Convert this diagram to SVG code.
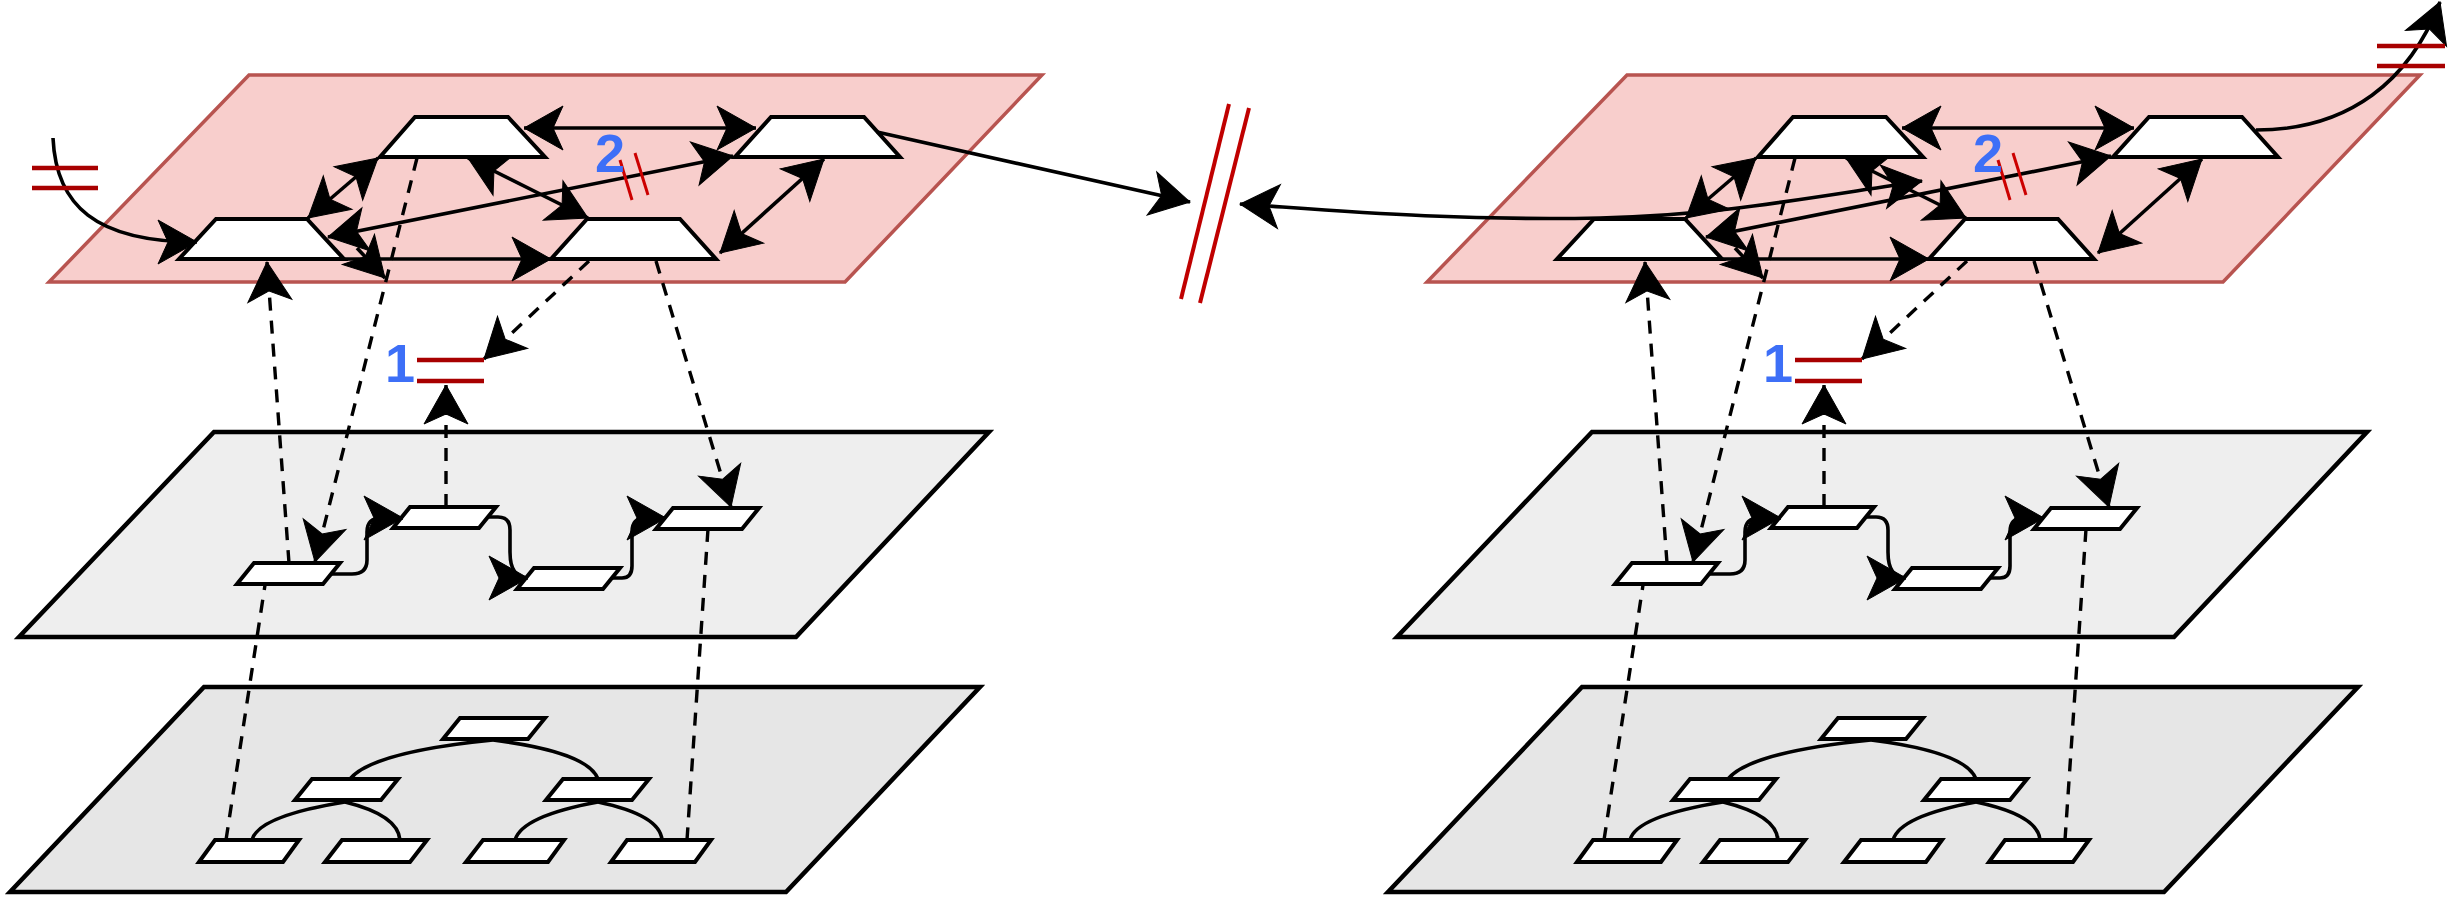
<svg xmlns="http://www.w3.org/2000/svg" width="2453" height="900" viewBox="0 0 2453 900">
<style>
.pink{fill:#f8cecc;stroke:#b85450;stroke-width:3.5}
.mid{fill:#eeeeee;stroke:#000;stroke-width:4.5}
.low{fill:#e6e6e6;stroke:#000;stroke-width:4.5}
.node{fill:#fff;stroke:#000;stroke-width:4}
.edge{fill:none;stroke:#000;stroke-width:3.6}
.dash{fill:none;stroke:#000;stroke-width:3.4;stroke-dasharray:13 10}
.red{fill:none;stroke:#a80000;stroke-width:4.5}
.tick{fill:none;stroke:#cc0000;stroke-width:3}
.slash{fill:none;stroke:#c00000;stroke-width:4}
.num{font-family:"Liberation Sans",Arial,sans-serif;font-weight:bold;font-size:54px;fill:#3d6ff7;text-anchor:middle}
</style>
<defs>
<marker id="arr" viewBox="-42 -24 44 48" markerWidth="44" markerHeight="48" refX="0" refY="0" orient="auto-start-reverse" markerUnits="userSpaceOnUse">
<path d="M0,0 L-39,-22 L-29,0 L-39,22 Z" fill="#000" stroke="#000" stroke-width="1"/>
</marker>
</defs>

<g id="planes">
<g id="planes-left">
<polygon id="L-top-plane" class="pink" points="249,75 1042,75 845,282 49,282"/>
<polygon id="L-mid-plane" class="mid" points="214,432 989,432 796,637 19,637"/>
<polygon id="L-low-plane" class="low" points="204,687 980,687 786,892 10,892"/>
</g>
<g id="planes-right" transform="translate(1378,0)">
<polygon id="R-top-plane" class="pink" points="249,75 1042,75 845,282 49,282"/>
<polygon id="R-mid-plane" class="mid" points="214,432 989,432 796,637 19,637"/>
<polygon id="R-low-plane" class="low" points="204,687 980,687 786,892 10,892"/>
</g>
</g>

<g id="nodes-left">
<g id="L-A"><polygon class="node" points="415,117 508,117 545,157 380,157"/></g>
<g id="L-B"><polygon class="node" points="771,117 864,117 900,157 735,157"/></g>
<g id="L-C"><polygon class="node" points="216,219 307,219 344,259 179,259"/></g>
<g id="L-D"><polygon class="node" points="587,219 680,219 716,259 551,259"/></g>
<g id="L-M1"><polygon class="node" points="254,563 340,563 323,584 237,584"/></g>
<g id="L-M2"><polygon class="node" points="410,507 496,507 479,528 393,528"/></g>
<g id="L-M3"><polygon class="node" points="534,568 620,568 603,589 517,589"/></g>
<g id="L-M4"><polygon class="node" points="673,508 759,508 742,529 656,529"/></g>
<g id="L-T0"><polygon class="node" points="460,718 545,718 528,739 443,739"/></g>
<g id="L-T1"><polygon class="node" points="312,779 398,779 381,800 295,800"/></g>
<g id="L-T2"><polygon class="node" points="563,779 649,779 632,800 546,800"/></g>
<g id="L-T3"><polygon class="node" points="215,840 299,840 283,862 199,862"/></g>
<g id="L-T4"><polygon class="node" points="342,840 427,840 410,862 325,862"/></g>
<g id="L-T5"><polygon class="node" points="483,840 564,840 548,862 466,862"/></g>
<g id="L-T6"><polygon class="node" points="627,840 711,840 695,862 611,862"/></g>
</g>

<g id="nodes-right" transform="translate(1378,0)">
<g id="R-A"><polygon class="node" points="415,117 508,117 545,157 380,157"/></g>
<g id="R-B"><polygon class="node" points="771,117 864,117 900,157 735,157"/></g>
<g id="R-C"><polygon class="node" points="216,219 307,219 344,259 179,259"/></g>
<g id="R-D"><polygon class="node" points="587,219 680,219 716,259 551,259"/></g>
<g id="R-M1"><polygon class="node" points="254,563 340,563 323,584 237,584"/></g>
<g id="R-M2"><polygon class="node" points="410,507 496,507 479,528 393,528"/></g>
<g id="R-M3"><polygon class="node" points="534,568 620,568 603,589 517,589"/></g>
<g id="R-M4"><polygon class="node" points="673,508 759,508 742,529 656,529"/></g>
<g id="R-T0"><polygon class="node" points="460,718 545,718 528,739 443,739"/></g>
<g id="R-T1"><polygon class="node" points="312,779 398,779 381,800 295,800"/></g>
<g id="R-T2"><polygon class="node" points="563,779 649,779 632,800 546,800"/></g>
<g id="R-T3"><polygon class="node" points="215,840 299,840 283,862 199,862"/></g>
<g id="R-T4"><polygon class="node" points="342,840 427,840 410,862 325,862"/></g>
<g id="R-T5"><polygon class="node" points="483,840 564,840 548,862 466,862"/></g>
<g id="R-T6"><polygon class="node" points="627,840 711,840 695,862 611,862"/></g>
</g>

<g id="connectors">
<g id="conn-left">
<path class="edge" d="M524,128 L756,128" marker-start="url(#arr)" marker-end="url(#arr)"/>
<path class="edge" d="M328,237 L733,156" marker-start="url(#arr)" marker-end="url(#arr)"/>
<path class="edge" d="M378,158 L308,218" marker-start="url(#arr)" marker-end="url(#arr)"/>
<path class="edge" d="M468,158 L588,218" marker-start="url(#arr)" marker-end="url(#arr)"/>
<path class="edge" d="M344,259 L551,259" marker-end="url(#arr)"/>
<path class="edge" d="M357,248 L385,278" marker-end="url(#arr)"/>
<path class="edge" d="M824,159 L720,253" marker-start="url(#arr)" marker-end="url(#arr)"/>
<path class="edge" d="M53,138 C56,205 95,242 197,242" marker-end="url(#arr)"/>
<path class="edge" d="M877,132 L1190,202" marker-end="url(#arr)"/>
<path class="edge" d="M331,574 L352,574 Q367,574 367,560 L367,532 Q367,518 381,518 L403,518" marker-end="url(#arr)"/>
<path class="edge" d="M488,517 L498,517 Q510,517 510,530 L510,552 Q510,578 528,578" marker-end="url(#arr)"/>
<path class="edge" d="M612,578 L622,578 Q632,578 632,566 L632,532 Q632,518 645,518 L666,518" marker-end="url(#arr)"/>
<path class="edge" d="M493,740 Q372,752 350,779"/>
<path class="edge" d="M493,740 Q588,752 598,779"/>
<path class="edge" d="M345,802 Q258,816 252,840"/>
<path class="edge" d="M345,802 Q398,815 400,840"/>
<path class="edge" d="M598,802 Q522,816 515,840"/>
<path class="edge" d="M598,802 Q660,815 662,840"/>
<path class="dash" d="M289,563 L267,262" marker-end="url(#arr)"/>
<path class="dash" d="M226,840 L265,585"/>
<path class="dash" d="M417,158 L315,562" marker-end="url(#arr)"/>
<path class="dash" d="M589,261 L484,359" marker-end="url(#arr)"/>
<path class="dash" d="M446,507 L446,385" marker-end="url(#arr)"/>
<path class="dash" d="M656,261 L731,507" marker-end="url(#arr)"/>
<path class="dash" d="M708,529 L687,840"/>
</g>
<g id="conn-right" transform="translate(1378,0)">
<path class="edge" d="M524,128 L756,128" marker-start="url(#arr)" marker-end="url(#arr)"/>
<path class="edge" d="M328,237 L733,156" marker-start="url(#arr)" marker-end="url(#arr)"/>
<path class="edge" d="M378,158 L308,218" marker-start="url(#arr)" marker-end="url(#arr)"/>
<path class="edge" d="M468,158 L588,218" marker-start="url(#arr)" marker-end="url(#arr)"/>
<path class="edge" d="M344,259 L551,259" marker-end="url(#arr)"/>
<path class="edge" d="M357,248 L385,278" marker-end="url(#arr)"/>
<path class="edge" d="M824,159 L720,253" marker-start="url(#arr)" marker-end="url(#arr)"/>
<path class="edge" d="M878,130 C972,130 1032,80 1062,2" marker-end="url(#arr)"/>
<path class="edge" d="M331,574 L352,574 Q367,574 367,560 L367,532 Q367,518 381,518 L403,518" marker-end="url(#arr)"/>
<path class="edge" d="M488,517 L498,517 Q510,517 510,530 L510,552 Q510,578 528,578" marker-end="url(#arr)"/>
<path class="edge" d="M612,578 L622,578 Q632,578 632,566 L632,532 Q632,518 645,518 L666,518" marker-end="url(#arr)"/>
<path class="edge" d="M493,740 Q372,752 350,779"/>
<path class="edge" d="M493,740 Q588,752 598,779"/>
<path class="edge" d="M345,802 Q258,816 252,840"/>
<path class="edge" d="M345,802 Q398,815 400,840"/>
<path class="edge" d="M598,802 Q522,816 515,840"/>
<path class="edge" d="M598,802 Q660,815 662,840"/>
<path class="dash" d="M289,563 L267,262" marker-end="url(#arr)"/>
<path class="dash" d="M226,840 L265,585"/>
<path class="dash" d="M417,158 L315,562" marker-end="url(#arr)"/>
<path class="dash" d="M589,261 L484,359" marker-end="url(#arr)"/>
<path class="dash" d="M446,507 L446,385" marker-end="url(#arr)"/>
<path class="dash" d="M656,261 L731,507" marker-end="url(#arr)"/>
<path class="dash" d="M708,529 L687,840"/>
</g>
<g id="conn-cross">
<path class="edge" d="M1922,181 C1800,199 1720,215 1600,218 C1450,221 1330,210 1240,204" marker-start="url(#arr)" marker-end="url(#arr)"/>
</g>
</g>

<g id="marks">
<line class="red" x1="32" y1="168" x2="98" y2="168"/>
<line class="red" x1="32" y1="188" x2="98" y2="188"/>
<line class="red" x1="417" y1="360" x2="484" y2="360"/>
<line class="red" x1="417" y1="381" x2="484" y2="381"/>
<line class="tick" x1="620" y1="160" x2="632" y2="200"/>
<line class="tick" x1="635" y1="153" x2="648" y2="195"/>
<line class="red" x1="1795" y1="360" x2="1862" y2="360"/>
<line class="red" x1="1795" y1="381" x2="1862" y2="381"/>
<line class="tick" x1="1998" y1="160" x2="2010" y2="200"/>
<line class="tick" x1="2013" y1="153" x2="2026" y2="195"/>
<line class="red" x1="2377" y1="46" x2="2445" y2="46"/>
<line class="red" x1="2377" y1="66" x2="2445" y2="66"/>
<line class="slash" x1="1229" y1="104" x2="1181" y2="299"/>
<line class="slash" x1="1249" y1="108" x2="1200" y2="303"/>
</g>

<g id="labels">
<text class="num" x="610" y="172">2</text>
<text class="num" x="400" y="382">1</text>
<text class="num" x="1988" y="172">2</text>
<text class="num" x="1778" y="382">1</text>
</g>
</svg>
